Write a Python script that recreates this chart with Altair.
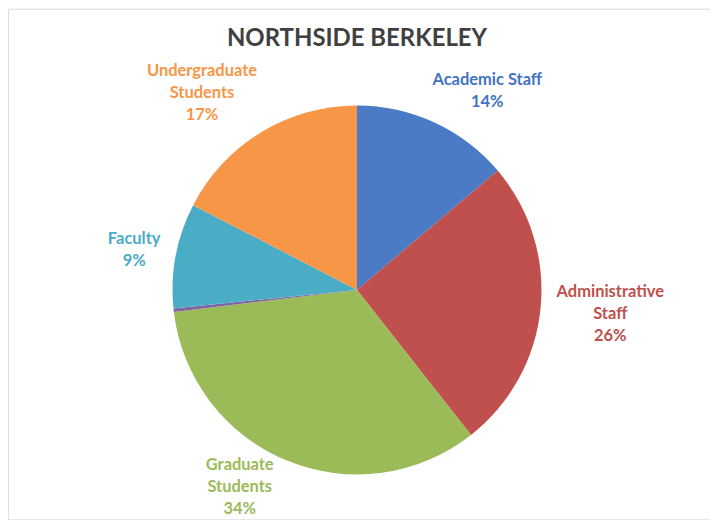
import altair as alt
import pandas as pd

title_text = "NORTHSIDE BERKELEY"
categories = ["Academic Staff", "Administrative Staff", "Graduate Students", "Other", "Faculty", "Undergraduate Students"]
label_names = ["Academic Staff", "Administrative\nStaff", "Graduate\nStudents", "", "Faculty", "Undergraduate\nStudents"]
shares = [13.8, 25.6, 33.7, 0.3, 9.2, 17.4]
colors = ["#4A7BC4", "#C0504D", "#9BBB59", "#8064A2", "#4BACC6", "#F79646"]
text_colors = ["#4472C4", "#C0504D", "#9BBB59", "#8064A2", "#4BACC6", "#F79646"]

labels = []
for name, v in zip(label_names, shares):
    labels.append(f"{name}\n{round(v)}%" if name else "")

df = pd.DataFrame({
    "category": categories,
    "share": shares,
    "label": labels,
    "order": list(range(len(categories))),
    "nchars": [max(len(s) for s in l.split("\n")) if l else 0 for l in labels],
    "nlines": [len(l.split("\n")) if l else 0 for l in labels],
})

W, H = 704, 512
CX, CY, R = 350, 282, 185
GAP, CW, LH, FS = 14, 8, 22, 16.5

color_scale = alt.Scale(domain=categories, range=colors)
text_scale = alt.Scale(domain=categories, range=text_colors)

pie = alt.Chart(df).mark_arc(stroke=None).encode(
    theta=alt.Theta("share:Q", stack=True),
    order=alt.Order("order:Q", sort="ascending"),
    color=alt.Color("category:N", scale=color_scale, legend=None),
    x=alt.value(CX), y=alt.value(CY), radius=alt.value(R),
)

text = alt.Chart(df).transform_joinaggregate(
    total="sum(share)"
).transform_window(
    cum="sum(share)", sort=[alt.SortField("order")], frame=[None, 0]
).transform_calculate(
    a="(datum.cum - datum.share / 2) / datum.total * 2 * PI"
).transform_calculate(
    fx="max(-1, min(1, 2 * sin(datum.a)))",
    hw=f"datum.nchars * {CW} / 2",
    hh=f"datum.nlines * {LH} / 2",
).transform_calculate(
    lx0=f"{CX} + ({R} + {GAP}) * sin(datum.a) + datum.fx * datum.hw",
    lyc=f"{CY} - ({R} + {GAP}) * cos(datum.a) - cos(datum.a) * datum.hh",
).transform_calculate(
    lyc2=f"min(datum.lyc, {H} - datum.hh)"
).transform_calculate(
    push=f"sqrt(max(0, {R} * {R} - pow(datum.lyc2 - datum.hh - {CY}, 2))) + datum.hw"
).transform_calculate(
    lx=f"datum.lyc2 < datum.lyc ? {CX} + (sin(datum.a) < 0 ? -1 : 1) * max(abs(datum.lx0 - {CX}), datum.push) : datum.lx0",
    ly=f"datum.lyc2 - (datum.nlines - 1) * {LH} / 2 + 1",
).transform_filter(
    "datum.label != ''"
).mark_text(
    font="Lato", fontWeight="bold", fontSize=FS, lineBreak="\n",
    align="center", baseline="middle", lineHeight=LH,
).encode(
    text="label:N",
    color=alt.Color("category:N", scale=text_scale, legend=None),
    x=alt.X("lx:Q", scale=None, axis=None),
    y=alt.Y("ly:Q", scale=None, axis=None),
)

title = alt.Chart(pd.DataFrame({"t": [title_text]})).mark_text(
    font="Lato", fontWeight="bold", fontSize=24, color="#404040",
    align="center", baseline="middle",
).encode(text="t:N", x=alt.value(CX), y=alt.value(30))

chart = alt.layer(pie, text, title).resolve_scale(color="independent").properties(
    width=W, height=H, padding=0, autosize=alt.AutoSizeParams(type="none"),
).configure_view(stroke="#D9D9D9", strokeWidth=1.5).configure(background="white")

chart.save("out.html", embed_options={"renderer": "svg", "actions": False})
